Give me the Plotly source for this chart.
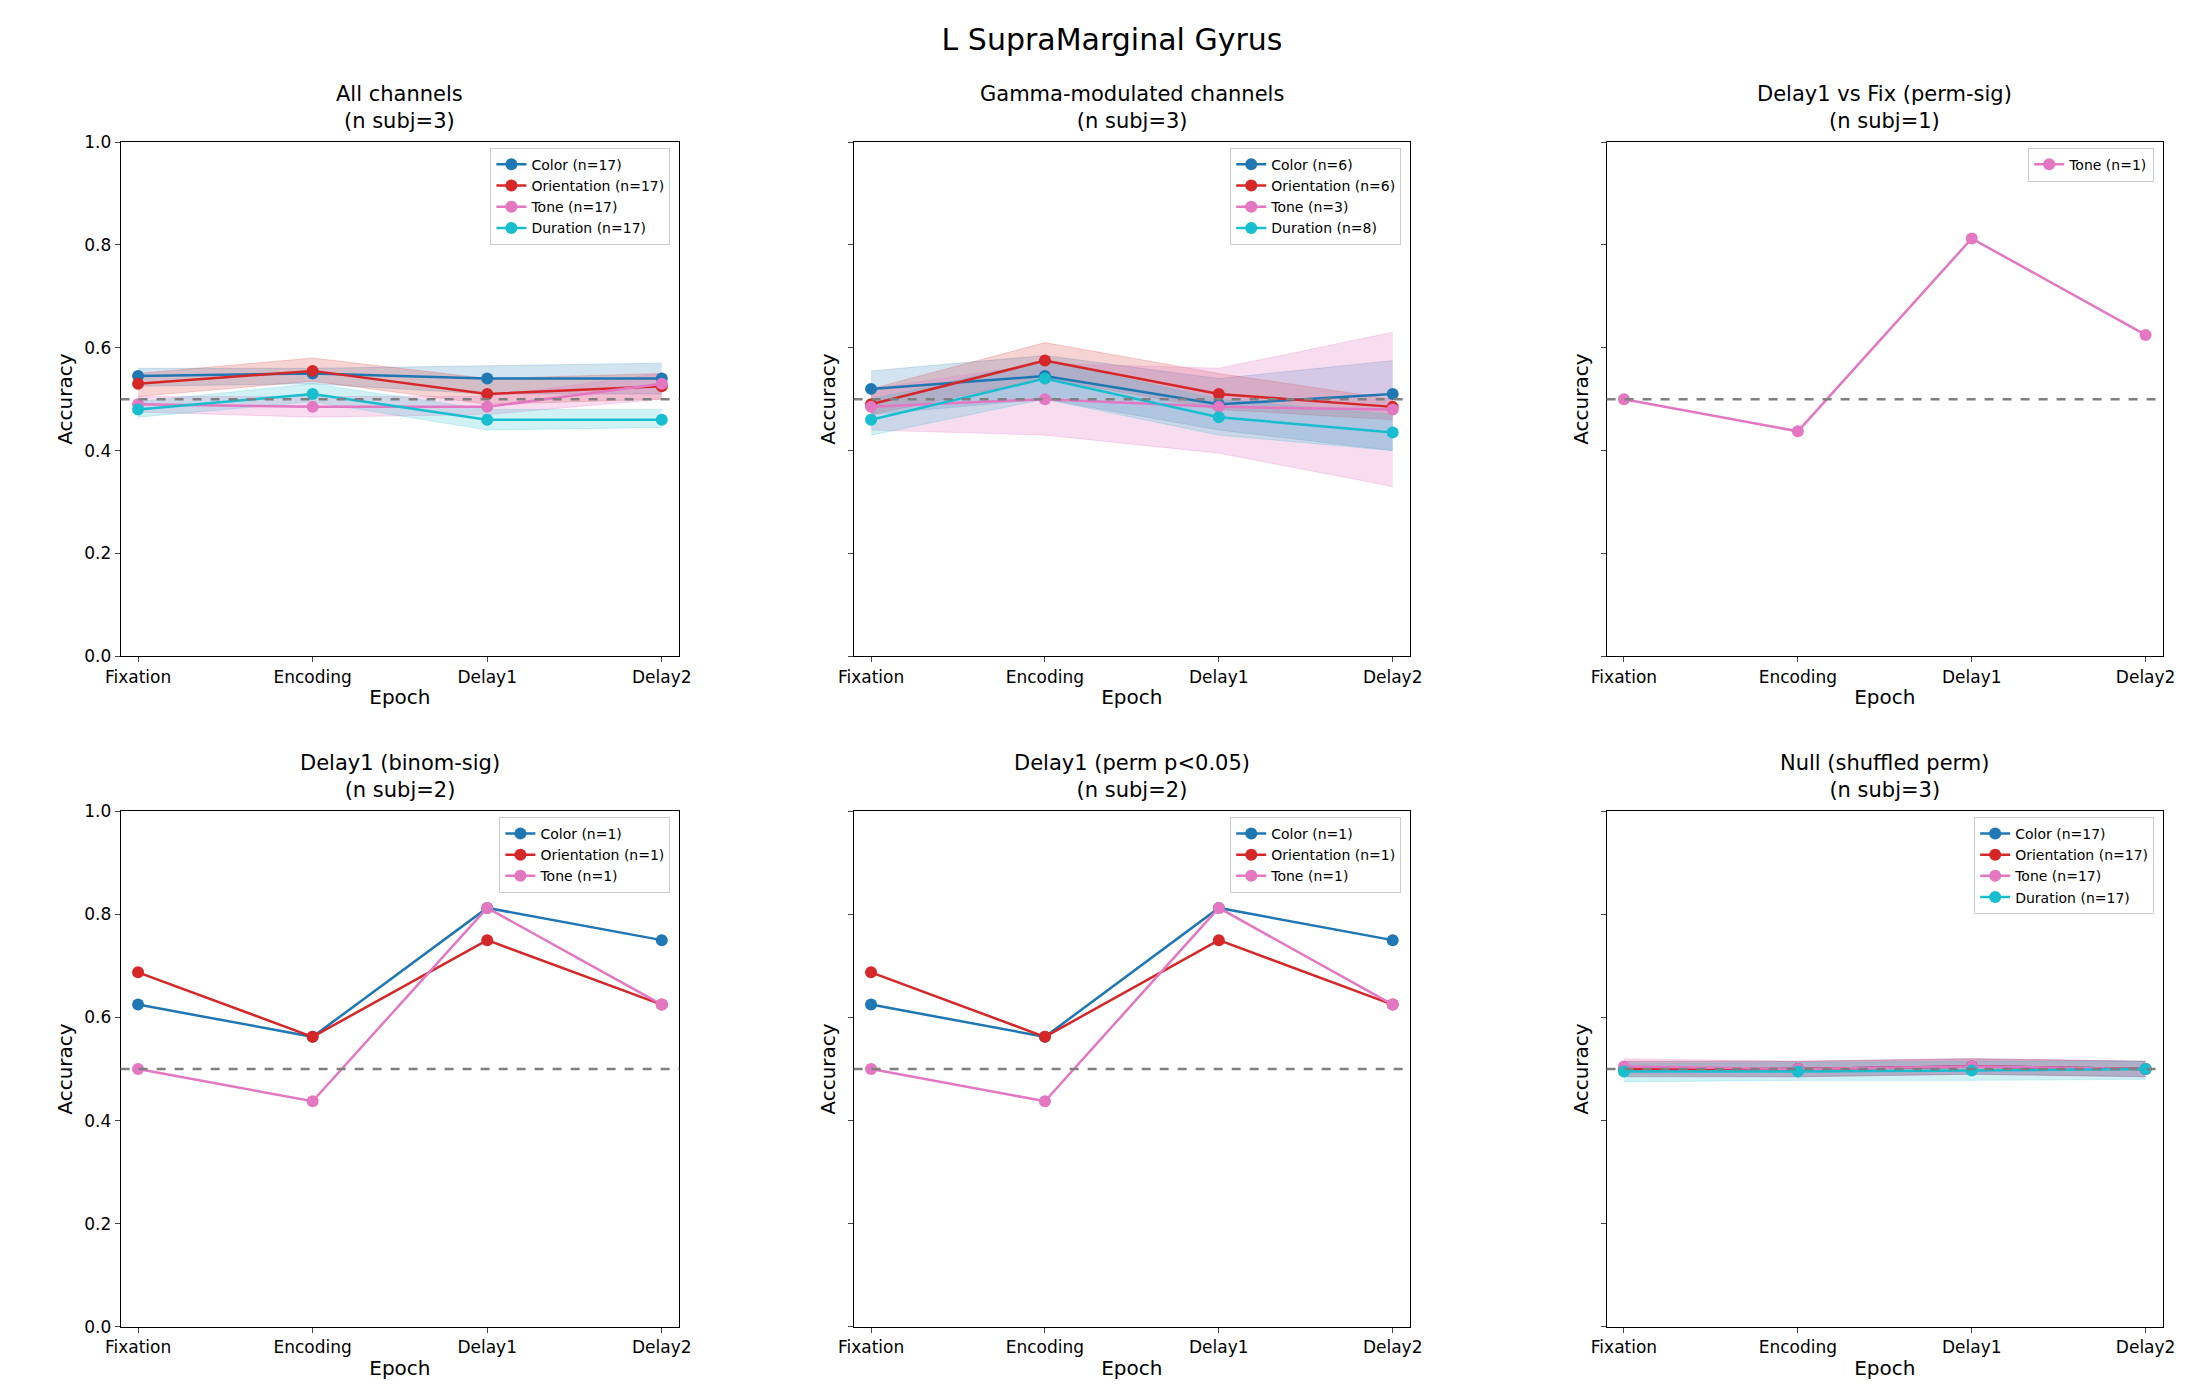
import plotly.graph_objects as go

epochs = ["Fixation", "Encoding", "Delay1", "Delay2"]
colors = {"Color": "#1f77b4", "Orientation": "#d62728", "Tone": "#e377c2", "Duration": "#17becf"}
fills = {"Color": "rgba(31,119,180,0.2)", "Orientation": "rgba(214,39,40,0.2)",
         "Tone": "rgba(227,119,194,0.25)", "Duration": "rgba(23,190,207,0.2)"}

titles = ["All channels<br>(n subj=3)", "Gamma-modulated channels<br>(n subj=3)",
          "Delay1 vs Fix (perm-sig)<br>(n subj=1)", "Delay1 (binom-sig)<br>(n subj=2)",
          "Delay1 (perm p<0.05)<br>(n subj=2)", "Null (shuffled perm)<br>(n subj=3)"]

# per panel: (feature, n, mean, lower, upper)
all_ch = [
    ("Color", 17, [0.545, 0.55, 0.54, 0.54], [0.525, 0.53, 0.51, 0.51], [0.56, 0.56, 0.565, 0.57]),
    ("Orientation", 17, [0.53, 0.555, 0.51, 0.525], [0.505, 0.535, 0.49, 0.5], [0.55, 0.58, 0.54, 0.55]),
    ("Tone", 17, [0.49, 0.485, 0.485, 0.53], [0.475, 0.465, 0.47, 0.5], [0.505, 0.505, 0.505, 0.55]),
    ("Duration", 17, [0.48, 0.51, 0.46, 0.46], [0.465, 0.495, 0.44, 0.445], [0.495, 0.53, 0.48, 0.48]),
]
gamma = [
    ("Color", 6, [0.52, 0.545, 0.49, 0.51], [0.47, 0.5, 0.44, 0.4], [0.555, 0.585, 0.54, 0.575]),
    ("Orientation", 6, [0.49, 0.575, 0.51, 0.485], [0.47, 0.54, 0.48, 0.46], [0.52, 0.61, 0.55, 0.5]),
    ("Tone", 3, [0.485, 0.5, 0.485, 0.48], [0.44, 0.43, 0.395, 0.33], [0.52, 0.57, 0.56, 0.63]),
    ("Duration", 8, [0.46, 0.54, 0.465, 0.435], [0.43, 0.5, 0.43, 0.4], [0.5, 0.575, 0.5, 0.47]),
]
d1_perm_fix = [("Tone", 1, [0.5, 0.4375, 0.8125, 0.625], None, None)]
d1_sig = [
    ("Color", 1, [0.625, 0.5625, 0.8125, 0.75], None, None),
    ("Orientation", 1, [0.6875, 0.5625, 0.75, 0.625], None, None),
    ("Tone", 1, [0.5, 0.4375, 0.8125, 0.625], None, None),
]
null = [
    ("Color", 17, [0.5, 0.5, 0.505, 0.5], [0.485, 0.485, 0.49, 0.485], [0.515, 0.515, 0.52, 0.515]),
    ("Orientation", 17, [0.5, 0.5, 0.505, 0.5], [0.485, 0.485, 0.49, 0.485], [0.515, 0.515, 0.52, 0.515]),
    ("Tone", 17, [0.505, 0.5, 0.505, 0.5], [0.49, 0.485, 0.49, 0.485], [0.52, 0.515, 0.52, 0.515]),
    ("Duration", 17, [0.495, 0.495, 0.497, 0.5], [0.475, 0.478, 0.478, 0.48], [0.51, 0.512, 0.515, 0.515]),
]
panels = [all_ch, gamma, d1_perm_fix, d1_sig, d1_sig, null]

xdom = [(0.051, 0.304), (0.383, 0.635), (0.724, 0.976)]
ydom = [(0.536, 0.904), (0.056, 0.425)]

fig = go.Figure()
layout = {}
for i, panel in enumerate(panels):
    r, c = divmod(i, 3)
    k = "" if i == 0 else str(i + 1)
    xa, ya, lg = "x" + k, "y" + k, "legend" + k
    for feat, n, m, lo, hi in panel:
        if lo is not None:
            fig.add_trace(go.Scatter(x=epochs, y=hi, xaxis=xa, yaxis=ya, mode="lines",
                                     line=dict(width=1, color=fills[feat]), showlegend=False, hoverinfo="skip"))
            fig.add_trace(go.Scatter(x=epochs, y=lo, xaxis=xa, yaxis=ya, mode="lines", fill="tonexty",
                                     fillcolor=fills[feat], line=dict(width=1, color=fills[feat]),
                                     showlegend=False, hoverinfo="skip"))
    # chance line
    fig.add_trace(go.Scatter(x=[-0.1, 3.1], y=[0.5, 0.5], xaxis=xa.replace("x", "x") if False else xa,
                             yaxis=ya, mode="lines", showlegend=False, hoverinfo="skip",
                             line=dict(color="#7f7f7f", width=2.5, dash="dash")) if False else None) if False else None
    for feat, n, m, lo, hi in panel:
        fig.add_trace(go.Scatter(x=epochs, y=m, xaxis=xa, yaxis=ya, mode="lines+markers",
                                 name=f"{feat} (n={n})", legend=lg,
                                 line=dict(color=colors[feat], width=2.5),
                                 marker=dict(size=12, color=colors[feat])))
    x0, x1 = xdom[c]
    y0, y1 = ydom[r]
    fig.add_shape(type="line", xref=xa + " domain", yref=ya, x0=0, x1=1, y0=0.5, y1=0.5,
                  layer="above", opacity=1, line=dict(color="#7f7f7f", width=2.5, dash="dash"))
    layout["xaxis" + k] = dict(domain=[x0, x1], anchor=ya, type="category", range=[-0.1, 3.1],
                               showline=True, mirror=True, linecolor="black", ticks="outside",
                               automargin=False,
                               title=dict(text="Epoch", standoff=4), showgrid=False, zeroline=False)
    layout["yaxis" + k] = dict(domain=[y0, y1], anchor=xa, range=[0, 1], dtick=0.2,
                               showline=True, mirror=True, linecolor="black", ticks="outside",
                               automargin=False,
                               showticklabels=(c == 0), tickformat=".1f",
                               title=dict(text="Accuracy", standoff=6), showgrid=False, zeroline=False)
    layout[lg] = dict(x=x1 - 0.004, y=y1 - 0.004, xanchor="right", yanchor="top", traceorder="normal",
                      bordercolor="#cccccc", borderwidth=1, bgcolor="rgba(255,255,255,0.8)",
                      font=dict(size=14))
    fig.add_annotation(text=titles[i], xref="paper", yref="paper", x=(x0 + x1) / 2, y=y1 + 0.005,
                       xanchor="center", yanchor="bottom", showarrow=False, font=dict(size=21))

fig.update_layout(**layout)
fig.update_layout(
    title=dict(text="L SupraMarginal Gyrus", x=0.5, xanchor="center", y=0.985, font=dict(size=30)),
    width=2208, height=1397, template="simple_white",
    font=dict(family="DejaVu Sans", size=17, color="black"),
    margin=dict(l=0, r=0, t=0, b=0), plot_bgcolor="white",
)
fig.write_html("out.html")
